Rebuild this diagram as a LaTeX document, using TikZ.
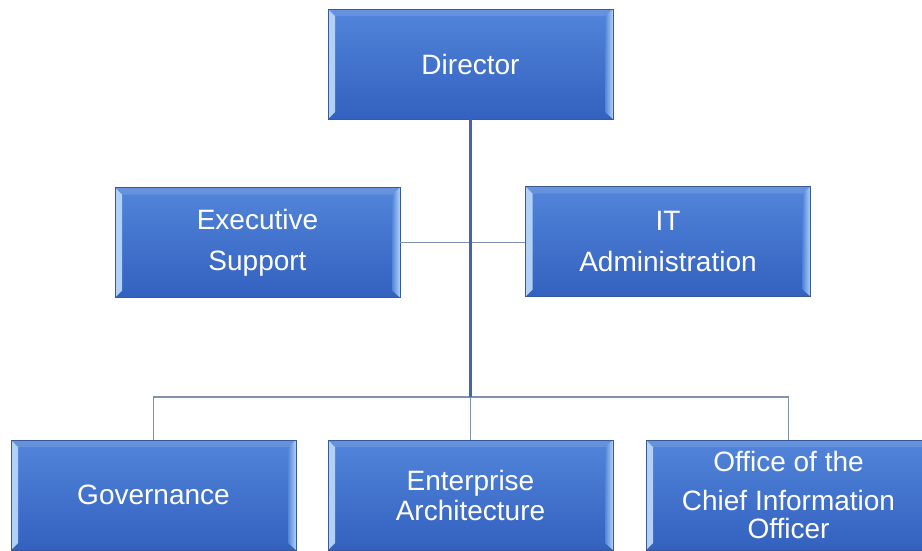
\documentclass[tikz,border=0pt]{standalone}
\usepackage{fontspec}
\setmainfont{Liberation Sans}
\definecolor{boxtop}{HTML}{5285DA}
\definecolor{boxbot}{HTML}{3361BF}
\definecolor{boxedge}{HTML}{3A5A96}
\definecolor{bevelhi}{HTML}{B4D2F6}
\definecolor{connline}{HTML}{7F93AE}
\definecolor{trunkline}{HTML}{4464A6}
\tikzset{
	orgbox/.style={draw=boxedge, line width=0.8pt, top color=boxtop, bottom color=boxbot,
		text=white, font=\fontsize{28}{41}\selectfont, align=center,
		minimum width=285pt, minimum height=110pt, inner sep=0pt,
		path picture={
			\shade[left color=bevelhi, right color=boxtop] (path picture bounding box.north west) -- ++(7pt,-7pt) -- ([shift={(7pt,7pt)}]path picture bounding box.south west) -- (path picture bounding box.south west) -- cycle;
			\shade[right color=bevelhi, left color=boxtop] (path picture bounding box.north east) -- ++(-8pt,-7pt) -- ([shift={(-8pt,7pt)}]path picture bounding box.south east) -- (path picture bounding box.south east) -- cycle;
			\fill[white, opacity=0.12] (path picture bounding box.north west) -- ++(7pt,-7pt) -- ([shift={(-8pt,-7pt)}]path picture bounding box.north east) -- (path picture bounding box.north east) -- cycle;
		}},
	conn/.style={draw=connline, line width=1.2pt},
	trunk/.style={draw=trunkline, line width=2.6pt}
}
\begin{document}
\begin{tikzpicture}[x=1pt,y=-1pt]
		\useasboundingbox (0,0) rectangle (922,550);
		% top
		\node[orgbox] (dir) at (470.5,64) {Director};
		% middle row
		\node[orgbox] (es) at (257.5,242.5) {Executive\\Support};
		\node[orgbox] (it) at (668,241.5) {IT\\Administration};
		% bottom row
		\node[orgbox] (gov) at (153.5,495) {Governance};
		\node[orgbox] (ea) at (470.5,495) {Enterprise\\[-11pt]Architecture};
		\node[orgbox] (oc) at (788.5,495) {Office of the\\[-2pt]Chief Information\\[-13pt]Officer};
		\coordinate (bus) at (470.5,397);
		% lines
		\draw[conn] (es.east) -- (es.east -| it.west);
		\draw[conn] (gov.north) |- (bus) -| (oc.north);
		\draw[conn] (bus) -- (ea.north);
		\draw[trunk] (dir.south) -- (bus);
\end{tikzpicture}
\end{document}
